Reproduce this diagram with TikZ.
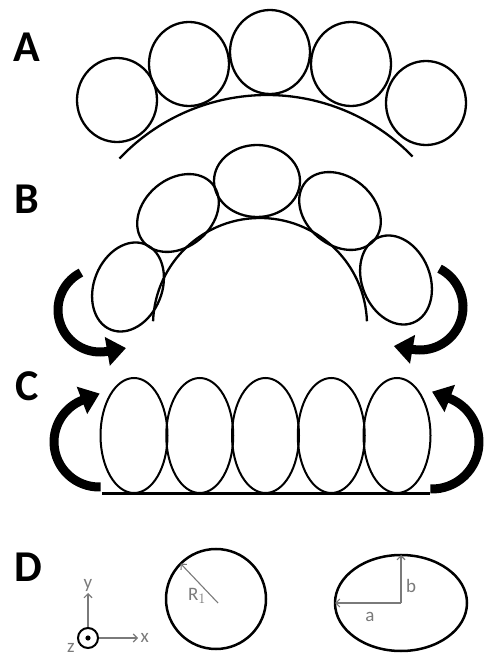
\documentclass[tikz,border=0pt]{standalone}
\usepackage{fontspec}
\setmainfont{Carlito}
\usetikzlibrary{positioning, arrows.meta, calc}
\definecolor{dimgray}{HTML}{7A7A7A}

\begin{document}
\begin{tikzpicture}[x=1pt, y=1pt,
    cell/.style={line width=2.3pt},
    panel/.style={font=\bfseries\fontsize{44}{44}\selectfont},
    curlarrow/.style={line width=9pt, -{Triangle[length=19pt, width=28pt]}},
    dim/.style={dimgray, line width=1.1pt, -{Straight Barb[length=4pt, width=8pt]}},
    lbl/.style={dimgray, font=\fontsize{19}{19}\selectfont},
  ]
  \useasboundingbox (0,0) rectangle (487,659);

  % Panel letters
  \node[panel] (pA) at (27,612) {A};
  \node[panel] (pB) at (27,460) {B};
  \node[panel] (pC) at (27,273) {C};
  \node[panel] (pD) at (28,92) {D};

  % A: circles on a shallow arc
  \draw[cell] (267,361) ++(136.6:203) arc[start angle=136.6, end angle=44.2, radius=203];
  \foreach \x/\y in {117/559, 189/595, 270/607, 351/595, 426/556} {
    \draw[cell] (\x,\y) ellipse[x radius=40, y radius=42];
  }

  % B: tilted ellipses on a half circle
  \draw[cell] (260,334) ++(178:107) arc[start angle=178, end angle=2, radius=107];
  \foreach \x/\y/\r/\a/\b in {128/372/68/46/34, 178/446/40/45/34, 257/478/0/43/36,
                              340/448/-40/45/34, 396/379/-68/46/34} {
    \draw[cell, rotate around={\r:(\x,\y)}] (\x,\y) ellipse[x radius=\a, y radius=\b];
  }

  % C: upright ellipses on a flat base
  \draw[line width=3pt] (102,165) -- (430,165);
  \foreach \x in {134, 199.75, 265.5, 331.25, 397} {
    \draw[line width=2pt] (\x,223.5) ellipse[x radius=33.5, y radius=57.5];
  }

  % Curved arrows
  \draw[curlarrow] (100,349) ++(117:42) arc[start angle=117, end angle=280, radius=42] -- ++(10:19);
  \draw[curlarrow] (420,352) ++(63:43) arc[start angle=63, end angle=-100, radius=43] -- ++(170:19);
  \draw[curlarrow] (99,217) ++(272:45) arc[start angle=272, end angle=111, radius=45] -- ++(21:18);
  \draw[curlarrow] (432,217) ++(268:47) arc[start angle=268, end angle=429, radius=47] -- ++(159:18);

  % D: axes
  \coordinate (o) at (88,21);
  \draw[line width=2pt] (o) circle[radius=10];
  \fill (o) circle[radius=2.6];
  \coordinate (ytip) at (88,66);
  \coordinate (xtip) at (138,21);
  \draw[dim] ($(o)+(0,11)$) -- (ytip);
  \draw[dim] ($(o)+(11,0)$) -- (xtip);
  \node[lbl, above=-2pt of ytip] (ylab) {y};
  \node[lbl, right=-1pt of xtip] (xlab) {x};
  \node[lbl] (zlab) at (71,11) {z};

  % D: circle with radius
  \coordinate (cc) at (216,60);
  \draw[line width=2.5pt] (cc) circle[radius=50];
  \coordinate (rfoot) at (218,56);
  \coordinate (redge) at ($(cc)+(135:50)$);
  \draw[dim] (rfoot) -- (redge);
  \node[lbl] (rlab) at (197,63) {R$_1$};

  % D: ellipse with semi-axes
  \coordinate (ec) at (401,56);
  \draw[line width=2.5pt] (ec) ellipse[x radius=66, y radius=48];
  \coordinate (atip) at (335,56);
  \coordinate (btip) at (401,104);
  \draw[dim] (ec) -- (atip);
  \draw[dim] (ec) -- (btip);
  \node[lbl] (alab) at (370,42) {a};
  \node[lbl] (blab) at (411,73) {b};
\end{tikzpicture}
\end{document}
